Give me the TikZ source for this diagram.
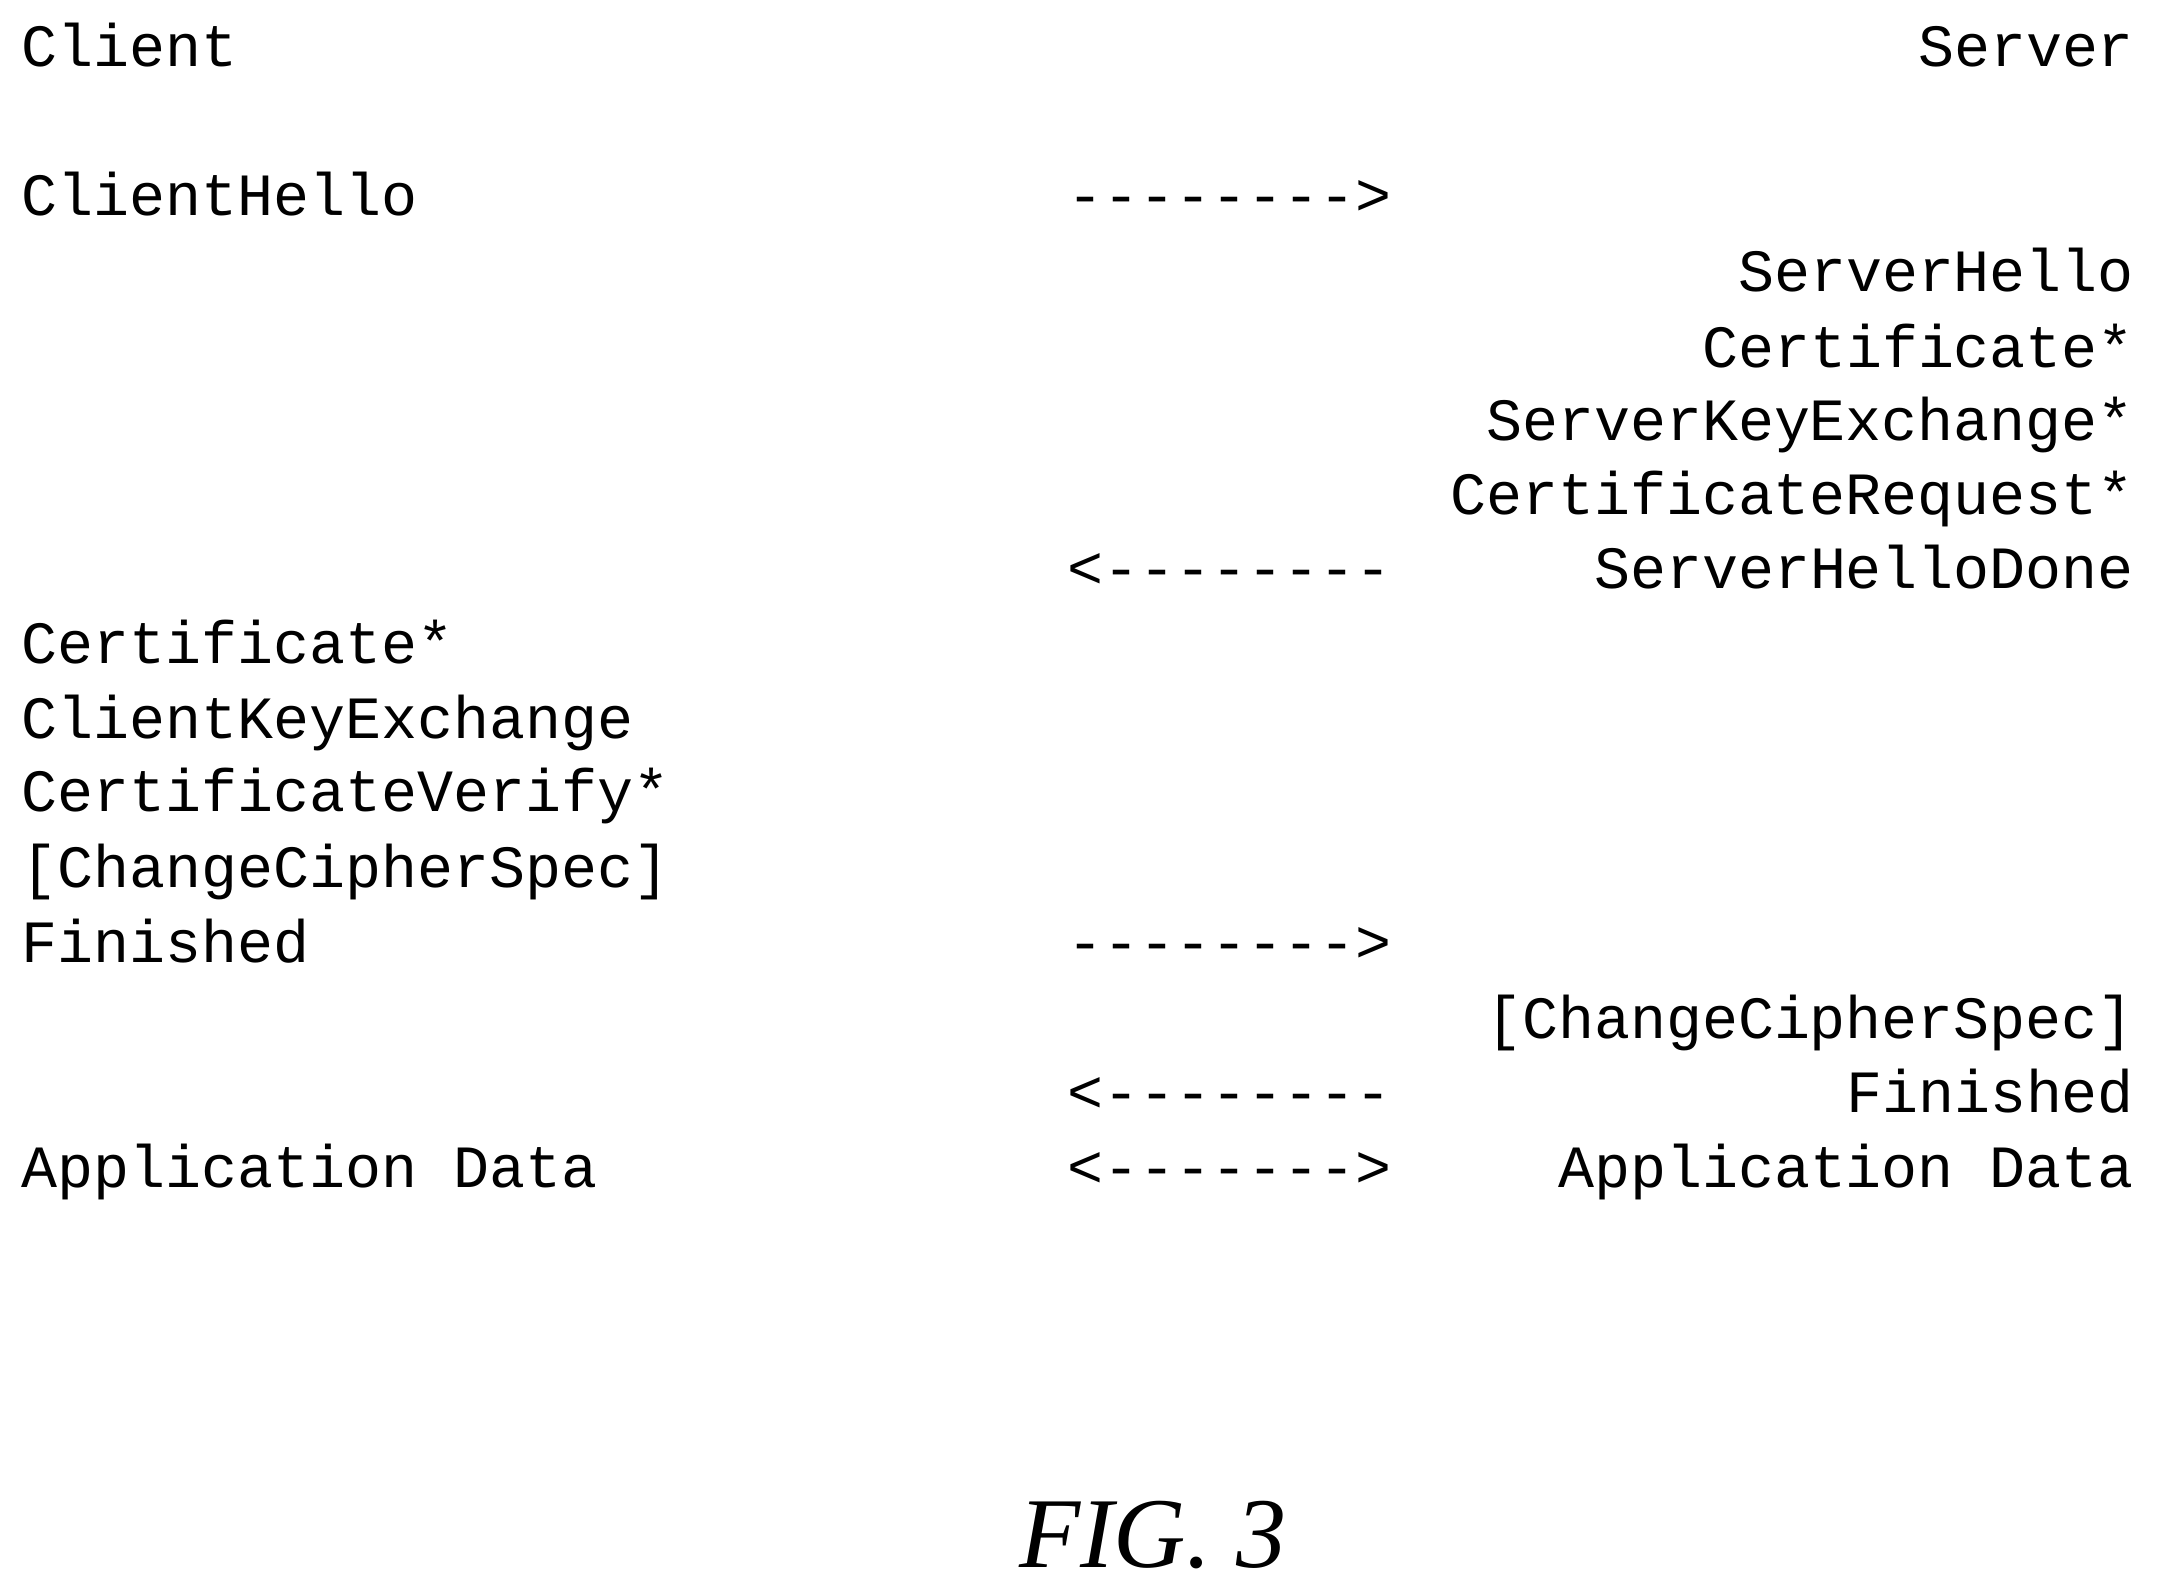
\documentclass[tikz,border=0pt]{standalone}
\usepackage{fontspec}
\setmonofont{Liberation Mono}
\setmainfont{Liberation Serif}
\begin{document}
\begin{tikzpicture}[x=.01cm,y=-.01cm,every node/.style={font=\ttfamily\fontsize{12.4pt}{14pt}\selectfont,inner sep=0pt},
	cl/.style={anchor=base west},sv/.style={anchor=base east},msg/.style={anchor=base west}]
		\useasboundingbox(0,0)rectangle(1568,1157);
		\node[cl](client)at(15,48){Client};
		\node[sv](server)at(1552,48){Server};
		\foreach\t/\y[count=\i]in{ClientHello/157,Certificate*/482,ClientKeyExchange/537,CertificateVerify*/590,[ChangeCipherSpec]/645,Finished/700,Application Data/863}
		{\node[cl](c\i)at(15,\y){\t};}
		\foreach\t/\y[count=\i]in{ServerHello/212,Certificate*/267,ServerKeyExchange*/320,CertificateRequest*/374,ServerHelloDone/428,[ChangeCipherSpec]/755,Finished/809,Application Data/863}
		{\node[sv](s\i)at(1552,\y){\t};}
		\foreach\t/\y[count=\i]in{-------->/157,<--------/428,-------->/700,<--------/809,<------->/863}
		{\node[msg](m\i)at(775,\y){\t};}
		\node[font=\rmfamily\itshape\fontsize{20.7pt}{24pt}\selectfont](fig)at(838,1116){FIG. 3};
		\end{tikzpicture}
\end{document}
